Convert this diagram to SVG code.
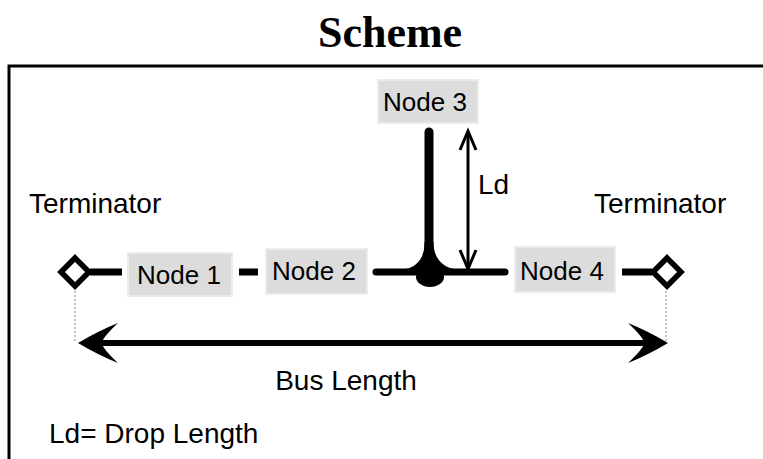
<svg xmlns="http://www.w3.org/2000/svg" width="763" height="459" viewBox="0 0 763 459">
<style>
.t{font-family:"Liberation Sans",Arial,sans-serif;font-size:26px;fill:#000}
.l{font-family:"Liberation Sans",Arial,sans-serif;font-size:28px;fill:#000}
.box{fill:#dcdcdc;stroke:#ebebeb;stroke-width:2}
.bus{stroke:#000;stroke-width:7;fill:none}
.dot{stroke:#888;stroke-width:1;stroke-dasharray:2,2;fill:none}
.term{fill:#fff;stroke:#000;stroke-width:5.5}
</style>
<rect width="763" height="459" fill="#fff"/>
<path d="M9,459 V66 H763" fill="none" stroke="#000" stroke-width="3"/>
<text x="390" y="47" text-anchor="middle" font-family="'Liberation Serif','Times New Roman',serif" font-weight="bold" font-size="44">Scheme</text>
<g id="connectors">
<line class="bus" x1="90" y1="272" x2="122" y2="272"/>
<line class="bus" x1="239" y1="272" x2="258" y2="272"/>
<line class="bus" x1="376" y1="272" x2="505" y2="272" stroke-linecap="round"/>
<line x1="429" y1="132" x2="429" y2="268" stroke="#000" stroke-width="9" stroke-linecap="round"/>
<path d="M424.5,242 Q425,266 402,270 L458,270 Q433.5,266 433.5,242 Z" fill="#000"/>
<ellipse cx="430" cy="277" rx="14" ry="10" fill="#000"/>
<line class="bus" x1="622" y1="272" x2="652" y2="272"/>
<line class="dot" x1="75" y1="291" x2="75" y2="343"/>
<line class="dot" x1="666" y1="291" x2="666" y2="343"/>
<line x1="90" y1="343" x2="656" y2="343" stroke="#000" stroke-width="6"/>
<path d="M78,343 Q98,331 118,323 Q102,338 102,343 Q102,348 118,363 Q98,355 78,343 Z" fill="#000"/>
<path d="M668,343 Q648,331 628,323 Q644,338 644,343 Q644,348 628,363 Q648,355 668,343 Z" fill="#000"/>
<line x1="468" y1="133" x2="468" y2="266" stroke="#000" stroke-width="3"/>
<path d="M460,150 L468,131 L476,150" fill="none" stroke="#000" stroke-width="3"/>
<path d="M460,250 L468,269 L476,250" fill="none" stroke="#000" stroke-width="3"/>
</g>
<g id="term-left">
<path class="term" d="M75,258 L89,272 L75,286 L61,272 Z"/>
<text class="l" x="29" y="213">Terminator</text>
</g>
<g id="term-right">
<path class="term" d="M667,258 L681,272 L667,286 L653,272 Z"/>
<text class="l" x="594" y="213">Terminator</text>
</g>
<g id="node1"><rect class="box" x="128" y="253" width="104" height="43"/><text class="t" x="137" y="284">Node 1</text></g>
<g id="node2"><rect class="box" x="266" y="249" width="101" height="45"/><text class="t" x="272" y="280">Node 2</text></g>
<g id="node3"><rect class="box" x="378" y="80" width="100" height="43"/><text class="t" x="383" y="111">Node 3</text></g>
<g id="node4"><rect class="box" x="515" y="247" width="100" height="45"/><text class="t" x="520" y="280">Node 4</text></g>
<text class="l" x="478" y="194">Ld</text>
<text class="l" x="346" y="390" text-anchor="middle">Bus Length</text>
<text class="l" x="49" y="443">Ld= Drop Length</text>
</svg>
